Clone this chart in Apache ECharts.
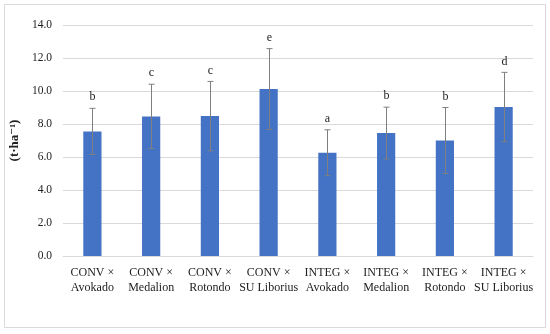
<!DOCTYPE html>
<html><head><meta charset="utf-8">
<script src="https://cdn.jsdelivr.net/npm/echarts@6/dist/echarts.min.js"></script>
<style>html,body{margin:0;padding:0;background:#fff}#c{width:550px;height:334px}</style>
</head><body><div id="c"></div>
<script>
const categories = ["CONV × Avokado","CONV × Medalion","CONV × Rotondo","CONV × SU Liborius","INTEG × Avokado","INTEG × Medalion","INTEG × Rotondo","INTEG × SU Liborius"];
const means = [7.55, 8.46, 8.48, 10.12, 6.26, 7.45, 7.0, 9.03];
const sds = [1.4, 1.95, 2.1, 2.45, 1.39, 1.57, 2.0, 2.1];
const letters = ["b","c","c","e","a","b","b","d"];
const yTicks = {min: 0, max: 14, interval: 2};

const FONT = '"Liberation Serif", "DejaVu Serif", serif';
const errData = means.map((m, i) => [i, m - sds[i], m + sds[i], letters[i]]);

const chart = echarts.init(document.getElementById('c'), null, {renderer: 'canvas'});
chart.setOption({
  animation: false,
  graphic: [{type: 'rect', shape: {x: 4.5, y: 4.5, width: 541, height: 323}, style: {fill: 'none', stroke: '#d9d9d9', lineWidth: 1}, z: -10}],
  grid: {left: 63, right: 17, top: 25, bottom: 78},
  xAxis: {
    type: 'category', data: categories,
    axisLine: {lineStyle: {color: '#d9d9d9'}},
    axisTick: {show: false},
    axisLabel: {
      interval: 0, fontFamily: FONT, fontSize: 12, color: '#222', lineHeight: 15, margin: 9,
      formatter: v => v.replace(' × ', ' ×\n')
    }
  },
  yAxis: {
    type: 'value', min: yTicks.min, max: yTicks.max, interval: yTicks.interval,
    name: '(t·ha⁻¹)', nameLocation: 'middle', nameGap: 38, nameRotate: 90,
    nameTextStyle: {fontFamily: FONT, fontSize: 13, fontWeight: 'bold', color: '#222'},
    axisLine: {show: false}, axisTick: {show: false},
    splitLine: {lineStyle: {color: '#d9d9d9', width: 1}},
    axisLabel: {fontFamily: FONT, fontSize: 11.5, color: '#222', margin: 11, formatter: v => v.toFixed(1)}
  },
  series: [
    {type: 'bar', data: means, barWidth: '31%', itemStyle: {color: '#4472C4'}},
    {
      type: 'custom', data: errData, z: 5,
      renderItem: (params, api) => {
        const x = api.value(0);
        const lo = api.coord([x, api.value(1)]);
        const hi = api.coord([x, api.value(2)]);
        const cx = Math.round(lo[0]) + 0.5;
        const cap = 3;
        const st = {stroke: '#7f7f7f', lineWidth: 1};
        return {type: 'group', children: [
          {type: 'line', shape: {x1: cx, y1: hi[1], x2: cx, y2: lo[1]}, style: st},
          {type: 'line', shape: {x1: cx - cap, y1: hi[1], x2: cx + cap, y2: hi[1]}, style: st},
          {type: 'line', shape: {x1: cx - cap, y1: lo[1], x2: cx + cap, y2: lo[1]}, style: st},
          {type: 'text', style: {text: letters[params.dataIndex], x: cx, y: hi[1] - 5, textAlign: 'center', textVerticalAlign: 'bottom', font: '12px ' + FONT, fill: '#222'}}
        ]};
      }
    }
  ]
});
</script></body></html>
